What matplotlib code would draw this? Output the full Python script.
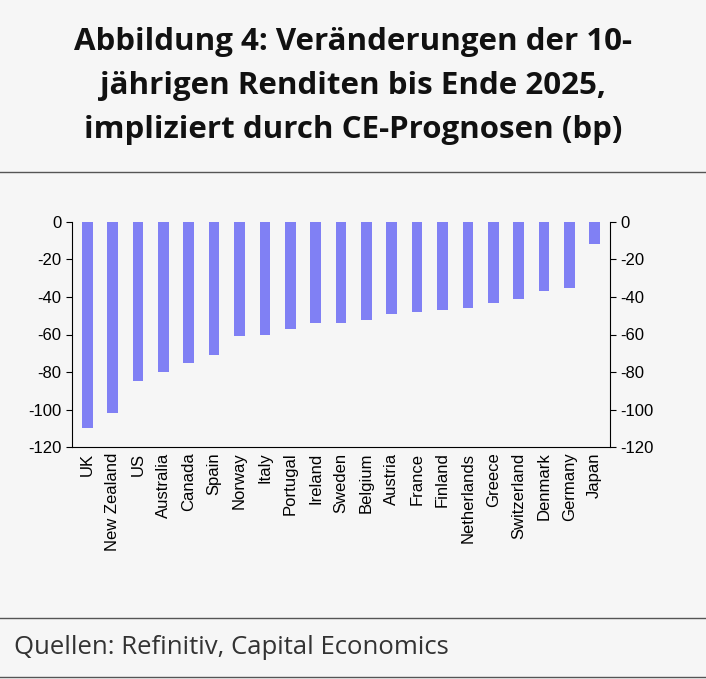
import matplotlib.pyplot as plt
import numpy as np

countries = ["UK", "New Zealand", "US", "Australia", "Canada", "Spain", "Norway", "Italy",
             "Portugal", "Ireland", "Sweden", "Belgium", "Austria", "France", "Finland",
             "Netherlands", "Greece", "Switzerland", "Denmark", "Germany", "Japan"]
changes = [-110, -102, -85, -80, -75, -71, -61, -60, -57, -54, -54, -52, -49, -48, -47,
           -46, -43, -41, -37, -35, -12]
yticks = [0, -20, -40, -60, -80, -100, -120]

W, H = 706, 679
bg = "#f6f6f6"
fig = plt.figure(figsize=(W / 100, H / 100), dpi=100, facecolor=bg)

fig.text(0.5, 1 - 86 / H,
         "Abbildung 4: Veränderungen der 10-\njährigen Renditen bis Ende 2025,\nimpliziert durch CE-Prognosen (bp)",
         ha="center", va="center", fontsize=22.5, fontweight="bold", linespacing=1.62,
         family=["Open Sans", "DejaVu Sans"], color="#111111")

for y in (172, 618, 677):
    fig.add_artist(plt.Line2D([0, 1], [1 - y / H, 1 - y / H], color="#555555", lw=1))

fig.text(14 / W, 1 - 648 / H, "Quellen: Refinitiv, Capital Economics", fontsize=18.5,
         va="center", family=["Open Sans", "DejaVu Sans"], color="#333333")

ax = fig.add_axes([72 / W, 1 - 447 / H, (610 - 72) / W, (447 - 222) / H])
ax.set_facecolor(bg)
x = np.arange(len(countries))
ax.bar(x, changes, width=0.42, color="#8080f4")
ax.set_xlim(-0.6, len(countries) - 0.4)
ax.set_ylim(-120, 0)
ax.set_yticks(yticks)
ax.set_yticklabels([str(v) for v in yticks], family="Liberation Sans")
ax.tick_params(axis="y", labelsize=12, right=True, labelright=True, direction="out", length=4)
ax.set_xticks(x)
ax.set_xticklabels(countries, rotation=90, fontsize=12, family="Liberation Sans")
ax.tick_params(axis="x", length=0, pad=4)
ax.spines["top"].set_visible(False)
for s in ("left", "right", "bottom"):
    ax.spines[s].set_color("#000000")
    ax.spines[s].set_linewidth(0.8)

fig.savefig("out.png", dpi=100, facecolor=bg)
